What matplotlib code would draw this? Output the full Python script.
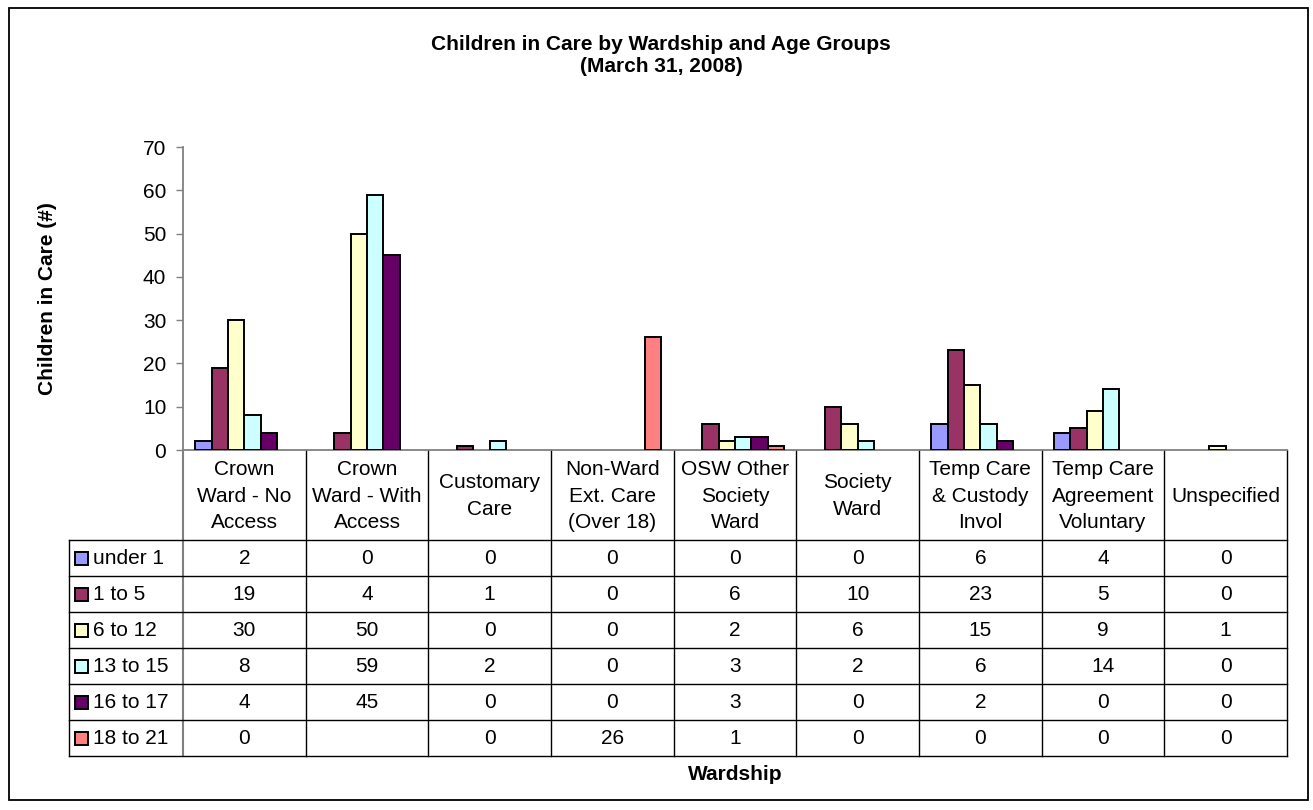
import numpy as np
import matplotlib
matplotlib.use("Agg")
import matplotlib.pyplot as plt
from matplotlib.patches import Rectangle

plt.rcParams["font.family"] = ["Liberation Sans", "DejaVu Sans"]

# ── data ──────────────────────────────────────────────────────────────────────
CATEGORIES = [
    "Crown\nWard - No\nAccess", "Crown\nWard - With\nAccess", "Customary\nCare",
    "Non-Ward\nExt. Care\n(Over 18)", "OSW Other\nSociety\nWard", "Society\nWard",
    "Temp Care\n& Custody\nInvol", "Temp Care\nAgreement\nVoluntary", "Unspecified",
]
AGE_GROUPS = ["under 1", "1 to 5", "6 to 12", "13 to 15", "16 to 17", "18 to 21"]

under_1   = [2, 0, 0, 0, 0, 0, 6, 4, 0]
age_1_5   = [19, 4, 1, 0, 6, 10, 23, 5, 0]
age_6_12  = [30, 50, 0, 0, 2, 6, 15, 9, 1]
age_13_15 = [8, 59, 2, 0, 3, 2, 6, 14, 0]
age_16_17 = [4, 45, 0, 0, 3, 0, 2, 0, 0]
age_18_21 = [0, None, 0, 26, 1, 0, 0, 0, 0]
SERIES = [under_1, age_1_5, age_6_12, age_13_15, age_16_17, age_18_21]

COLORS = ["#9999FF", "#993366", "#FFFFCC", "#CCFFFF", "#660066", "#FF8080"]

# ── layout (pixels) ───────────────────────────────────────────────────────────
W, H = 1313, 810
X0, X1 = 183, 1287          # plot area / table columns
Y_TOP, Y_ZERO = 147, 450    # value axis 70 .. 0
HEAD_BOT = 540
ROW_H = 36
LEG_X = 69
FS = 15       # regular text
FS_B = 15     # bold titles

fig = plt.figure(figsize=(W / 100, H / 100), dpi=100)

ax = fig.add_axes([X0 / W, 1 - Y_ZERO / H, (X1 - X0) / W, (Y_ZERO - Y_TOP) / H])
n_cat = len(CATEGORIES)
x = np.arange(n_cat)
bw = 1 / 7.5
for i, (vals, col) in enumerate(zip(SERIES, COLORS)):
    h = np.array([np.nan if (v is None or v == 0) else v for v in vals], dtype=float)
    ax.bar(x + (i - 2.5) * bw, h, width=bw, color=col, edgecolor="black",
           linewidth=1.4, zorder=3)

ax.set_xlim(-0.5, n_cat - 0.5)
ax.set_ylim(0, 70)
ax.set_yticks(range(0, 71, 10))
ax.set_xticks([])
ax.tick_params(axis="y", direction="out", length=5, width=1, color="#808080",
               labelsize=FS, pad=7)
for s in ["top", "right"]:
    ax.spines[s].set_visible(False)
ax.spines["left"].set_color("#808080")
ax.spines["left"].set_linewidth(1.3)
ax.spines["bottom"].set_color("#808080")
ax.spines["bottom"].set_linewidth(1.3)
ax.patch.set_alpha(0)

# overlay in pixel coordinates for table, titles and frame
ov = fig.add_axes([0, 0, 1, 1], zorder=-1)
ov.set_xlim(0, W)
ov.set_ylim(H, 0)
ov.axis("off")

ov.add_patch(Rectangle((9, 8), 1299, 792, fill=False, edgecolor="black", linewidth=1.3))

col_w = (X1 - X0) / n_cat
n_rows = len(AGE_GROUPS)
y_bot = HEAD_BOT + n_rows * ROW_H

# vertical lines
for j in range(1, n_cat + 1):
    xx = X0 + j * col_w
    ov.plot([xx, xx], [Y_ZERO, y_bot], color="black", linewidth=1)
ov.plot([X0, X0], [Y_ZERO, y_bot], color="#808080", linewidth=1.5)
ov.plot([LEG_X, LEG_X], [HEAD_BOT, y_bot], color="black", linewidth=1)
# horizontal lines
for r in range(n_rows + 1):
    yy = HEAD_BOT + r * ROW_H
    ov.plot([LEG_X, X1], [yy, yy], color="black", linewidth=1)

# header labels
for j, lab in enumerate(CATEGORIES):
    ov.text(X0 + (j + 0.5) * col_w, (Y_ZERO + HEAD_BOT) / 2 + 1, lab, ha="center",
            va="center", fontsize=FS, linespacing=1.5)

# row labels + values
for r, (name, vals, col) in enumerate(zip(AGE_GROUPS, SERIES, COLORS)):
    yc = HEAD_BOT + (r + 0.5) * ROW_H
    ov.add_patch(Rectangle((LEG_X + 6, yc - 6.5), 13, 13, facecolor=col,
                           edgecolor="black", linewidth=1.4))
    ov.text(LEG_X + 24, yc + 1, name, ha="left", va="center", fontsize=FS)
    for j, v in enumerate(vals):
        if v is None:
            continue
        ov.text(X0 + (j + 0.5) * col_w, yc, str(v), ha="center", va="center",
                fontsize=FS)

# titles
ov.text(661, 45, "Children in Care by Wardship and Age Groups", ha="center",
        va="center", fontsize=FS_B, fontweight="bold")
ov.text(661, 67, "(March 31, 2008)", ha="center", va="center", fontsize=FS_B,
        fontweight="bold")
ov.text((X0 + X1) / 2, 775, "Wardship", ha="center", va="center", fontsize=FS_B,
        fontweight="bold")
ov.text(48, 299, "Children in Care (#)", ha="center", va="center", rotation=90,
        fontsize=FS_B, fontweight="bold")

fig.savefig("out.png", dpi=100)
